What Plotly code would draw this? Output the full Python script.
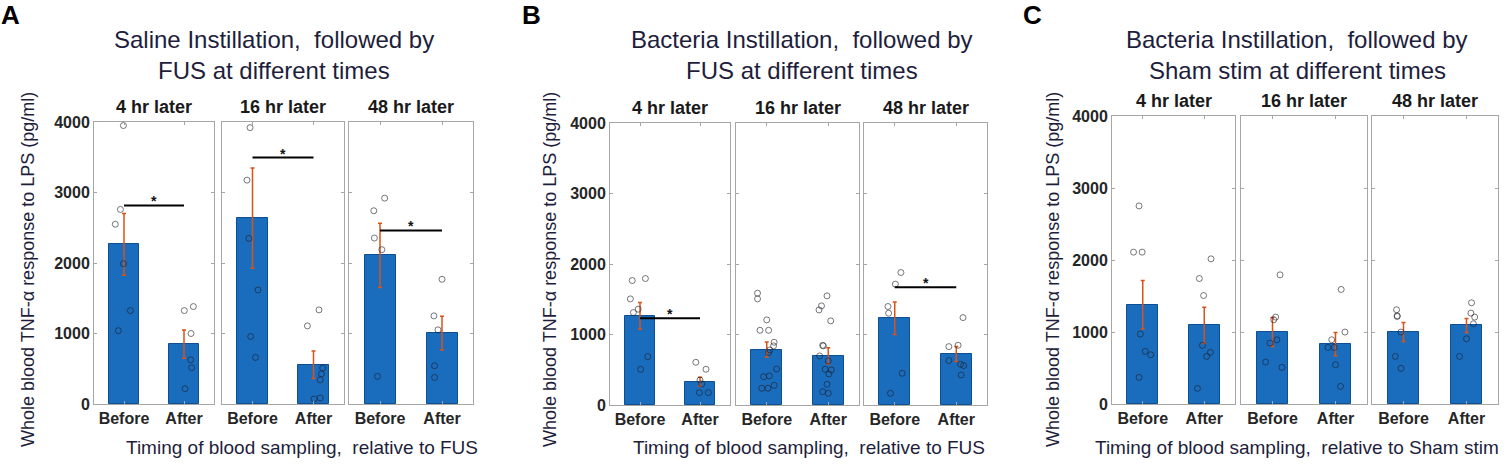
import plotly.graph_objects as go

# ---- data ----
groups = ['Before', 'After']
timepoints = ['4 hr later', '16 hr later', '48 hr later']

panel_letters = ['A', 'B', 'C']
panel_titles = [
    ['Saline Instillation,  followed by', 'FUS at different times'],
    ['Bacteria Instillation,  followed by', 'FUS at different times'],
    ['Bacteria Instillation,  followed by', 'Sham stim at different times'],
]
x_titles = [
    'Timing of blood sampling,  relative to FUS',
    'Timing of blood sampling,  relative to FUS',
    'Timing of blood sampling,  relative to Sham stim',
]
y_title = 'Whole blood TNF-\u03b1 response to LPS (pg/ml)'

# bar means, per timepoint: Before, After
a_mean = [2264, 849, 2637, 557, 2109, 1005]
b_mean = [1264, 331, 786, 696, 1231, 724]
c_mean = [1378, 1091, 999, 832, 999, 1091]

# error bars (SEM)
a_sem = [437, 199, 712, 194, 455, 239]
b_sem = [190, 64, 109, 116, 230, 107]
c_sem = [336, 252, 201, 162, 132, 97]

# individual animals
a_pts = [
    [3950, 2760, 2550, 1990, 1325, 1040],
    [1325, 1382, 1000, 627, 514, 217],
    [3920, 3175, 2349, 1618, 958, 660],
    [1335, 1108, 510, 428, 343, 71, 85],
    [2920, 2741, 2354, 2189, 392],
    [1769, 1250, 1052, 542, 377],
]
b_pts = [
    [1766, 1794, 1505, 1359, 1311, 686, 507],
    [606, 507, 355, 300, 175, 175],
    [1586, 1505, 1207, 1060, 1060, 890, 838, 781, 743, 511, 412, 402, 279, 237, 237],
    [1548, 1406, 1349, 1193, 847, 838, 696, 625, 507, 497, 440, 294, 189, 166],
    [1879, 1714, 1397, 1302, 450, 166],
    [1240, 828, 847, 630, 578, 559, 426],
]
c_pts = [
    [2751, 2109, 2109, 971, 731, 684, 370],
    [2016, 1743, 1507, 814, 717, 661, 217],
    [1794, 1207, 1170, 892, 846, 583, 509],
    [1591, 999, 892, 786, 786, 546, 245],
    [1309, 1225, 1216, 999, 661, 495],
    [1406, 1262, 1207, 1114, 906, 661],
]

# horizontal jitter of the dots (category units), as seen in the figure
a_jit = [
    [-0.01, -0.06, -0.145, -0.01, 0.106, -0.095],
    [0.005, 0.156, 0.117, 0.11, 0.128, 0.017],
    [-0.04, -0.09, -0.06, 0.09, -0.03, 0.05],
    [0.09, -0.10, 0.15, 0.13, 0.11, 0.01, 0.11],
    [0.075, -0.10, -0.09, 0.03, -0.04],
    [0.0, -0.13, -0.065, -0.12, -0.12],
]
b_jit = [
    [-0.13, 0.09, -0.16, -0.03, -0.11, 0.13, 0.01],
    [-0.07, 0.10, 0.0, 0.03, -0.01, 0.14],
    [-0.15, -0.15, 0.0, -0.11, 0.03, 0.12, 0.11, 0.05, 0.03, 0.16, 0.04, -0.05, 0.12, -0.08, 0.02],
    [-0.02, -0.11, -0.15, 0.04, -0.09, -0.08, -0.14, 0.0, -0.05, 0.05, 0.01, -0.02, -0.09, 0.0],
    [0.10, 0.01, -0.11, -0.10, 0.12, -0.07],
    [0.11, -0.12, 0.03, -0.12, 0.07, 0.12, 0.08],
]
c_jit = [
    [-0.06, -0.15, -0.01, -0.04, 0.04, 0.13, -0.06],
    [0.11, -0.08, -0.01, -0.03, 0.10, 0.04, -0.11],
    [0.12, 0.05, 0.02, 0.07, -0.04, -0.11, 0.15],
    [0.09, 0.15, -0.06, -0.12, -0.02, 0.0, 0.08],
    [-0.11, -0.10, -0.10, -0.04, -0.13, -0.04],
    [0.08, 0.07, 0.13, 0.11, 0.0, -0.11],
]

# significance bar heights (None = no bar)
a_sig = [2816, 3495, 2462]
b_sig = [1231, None, 1671]
c_sig = [None, None, None]

means = [a_mean, b_mean, c_mean]
sems = [a_sem, b_sem, c_sem]
pts = [a_pts, b_pts, c_pts]
jits = [a_jit, b_jit, c_jit]
sigs = [a_sig, b_sig, c_sig]

# ---- layout geometry (pixels in the 1504x466 picture) ----
W, H = 1504, 466
x_px = [
    [(94, 214), (222, 344), (349, 473)],
    [(610, 730), (736, 859), (864, 987)],
    [(1112, 1235), (1241, 1367), (1372, 1498)],
]
y_px = [(122, 404), (123, 405), (116, 404)]

BAR = '#1a6cbc'
EDGE = '#0d4f92'
ERR = '#d95319'
FRAME = '#a6a6a6'
TXT = '#1e1e3c'
FONT = 'Liberation Sans, Arial, sans-serif'

fig = go.Figure()
layout = {}
annotations = []
shapes = []


def note(text, x, y, size, color=TXT, bold=False, angle=0):
    return dict(text=text, xref='paper', yref='paper', x=x / W, y=1 - y / H,
                xanchor='center', yanchor='middle', showarrow=False,
                textangle=angle,
                font=dict(size=size, color=color, family=FONT,
                          weight='bold' if bold else 'normal'))


for p in range(3):
    for s in range(3):
        k = p * 3 + s
        xa = 'x' if k == 0 else f'x{k + 1}'
        ya = 'y' if k == 0 else f'y{k + 1}'
        i0, i1 = 2 * s, 2 * s + 1

        fig.add_trace(go.Bar(
            x=[1, 2], y=[means[p][i0], means[p][i1]],
            width=0.5,
            marker=dict(color=BAR, line=dict(color=EDGE, width=1)),
            error_y=dict(type='data', array=[sems[p][i0], sems[p][i1]],
                         color=ERR, thickness=1.5, width=2),
            xaxis=xa, yaxis=ya, showlegend=False,
        ))
        for g in range(2):
            vals = pts[p][2 * s + g]
            jit = jits[p][2 * s + g]
            fig.add_trace(go.Scatter(
                x=[g + 1 + j for j in jit], y=vals, mode='markers',
                marker=dict(symbol='circle-open', size=6,
                            color='rgba(30,30,40,0.6)', line=dict(width=1)),
                xaxis=xa, yaxis=ya, showlegend=False,
            ))

        x0, x1 = x_px[p][s]
        yt, yb = y_px[p]
        key = '' if k == 0 else str(k + 1)
        layout['xaxis' + key] = dict(
            domain=[x0 / W, x1 / W], anchor=ya, range=[0.5, 2.5],
            tickvals=[1, 2], ticktext=groups, automargin=False,
            tickfont=dict(size=16, color='#262626', family=FONT, weight='bold'),
            showline=True, linecolor=FRAME, linewidth=1, mirror='ticks',
            ticks='inside', ticklen=3, tickcolor=FRAME, showgrid=False,
            zeroline=False, fixedrange=True,
        )
        layout['yaxis' + key] = dict(
            domain=[1 - yb / H, 1 - yt / H], anchor=xa, range=[0, 4000],
            tickvals=[0, 1000, 2000, 3000, 4000], automargin=False,
            showticklabels=(s == 0),
            tickfont=dict(size=16, color='#262626', family=FONT, weight='bold'),
            showline=True, linecolor=FRAME, linewidth=1, mirror='ticks',
            ticks='inside', ticklen=3, tickcolor=FRAME, showgrid=False,
            zeroline=False, fixedrange=True,
        )

        # subplot title
        annotations.append(dict(
            text=timepoints[s], xref=f'{xa} domain', yref=f'{ya} domain',
            x=0.5, y=1, xanchor='center', yanchor='bottom', yshift=3,
            showarrow=False,
            font=dict(size=18, color='#1a1a1a', family=FONT, weight='bold'),
        ))

        # significance bar
        sig = sigs[p][s]
        if sig is not None:
            shapes.append(dict(type='line', xref=xa, yref=ya, x0=1, x1=2,
                               y0=sig, y1=sig, line=dict(color='black', width=2)))
            annotations.append(dict(
                text='*', xref=xa, yref=ya, x=1.5, y=sig, xanchor='center',
                yanchor='bottom', yshift=-6, showarrow=False,
                font=dict(size=14, color='#111', family=FONT, weight='bold'),
            ))

    # panel letter, titles, axis titles
    annotations.append(note(panel_letters[p], [10, 531, 1032][p], 15, 26,
                            color='black', bold=True))
    title_cx = [274, 802, 1297][p]
    for li, line in enumerate(panel_titles[p]):
        annotations.append(note(line, title_cx, 40 + 30 * li, 24))
    annotations.append(note(y_title, [28, 550, 1053][p], 270, 18, angle=-90))
    annotations.append(note(x_titles[p], [302, 809, 1297][p], 447, 19))

fig.update_layout(
    width=W, height=H,
    margin=dict(l=0, r=0, t=0, b=0, autoexpand=False),
    paper_bgcolor='white', plot_bgcolor='white',
    barmode='overlay', bargap=0,
    annotations=annotations, shapes=shapes,
    font=dict(family=FONT),
    **layout,
)
fig.write_html('out.html', config={'displayModeBar': False},
               post_script="document.body.style.margin = '0';")
